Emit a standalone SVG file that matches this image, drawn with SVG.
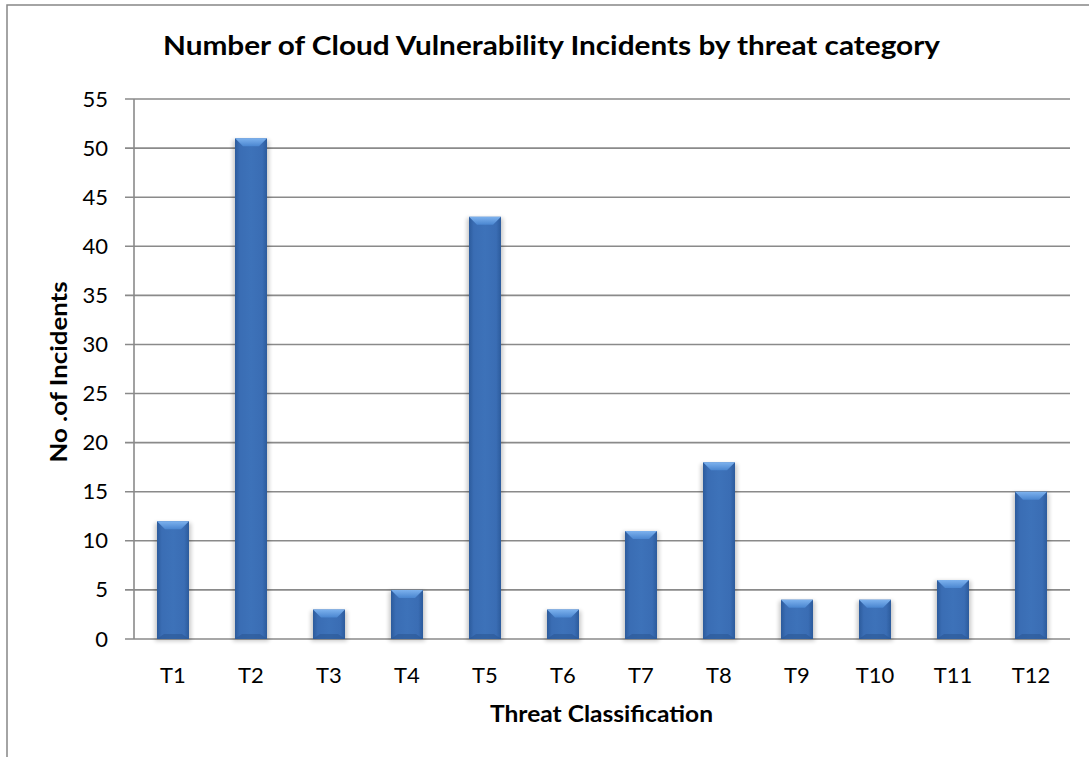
<svg xmlns="http://www.w3.org/2000/svg" width="1089" height="757" viewBox="0 0 1089 757">
<style>
.frame{fill:#fff;stroke:#878787;stroke-width:1.5}
.grid{stroke:#8a8a8a;stroke-width:1.6;fill:none}
.tick{font-family:Lato,"Liberation Sans",sans-serif;font-size:22px;fill:#000}
.ylab{text-anchor:end}
.xlab{text-anchor:middle}
.title{font-family:Lato,"Liberation Sans",sans-serif;font-weight:bold;fill:#000;text-anchor:middle}
.body{fill:url(#gBody)}
.top{fill:url(#gTop)}
.bot{fill:#2a5591;opacity:.55}
.shadow{fill:#000;opacity:.22;filter:url(#blur)}
</style>
<defs>
<linearGradient id="gBody" x1="0" y1="0" x2="1" y2="0">
<stop offset="0" stop-color="#2c5b9c"/>
<stop offset="0.15" stop-color="#3a6db4"/>
<stop offset="0.5" stop-color="#3d72b9"/>
<stop offset="0.85" stop-color="#3a6db4"/>
<stop offset="1" stop-color="#2c5b9c"/>
</linearGradient>
<linearGradient id="gTop" x1="0" y1="0" x2="0" y2="1">
<stop offset="0" stop-color="#7db2ee"/>
<stop offset="1" stop-color="#4a86d0"/>
</linearGradient>
<filter id="blur" x="-30%" y="-30%" width="160%" height="160%"><feGaussianBlur stdDeviation="2"/></filter>
</defs>
<rect class="frame" x="7" y="5" width="1110" height="800"/>
<g id="title"><text class="title" x="551.5" y="55" font-size="26" textLength="777" lengthAdjust="spacingAndGlyphs">Number of Cloud Vulnerability Incidents by threat category</text></g>
<g id="axes">
<g class="grid">
<line x1="125" y1="99" x2="1070" y2="99"/>
<line x1="125" y1="148.1" x2="1070" y2="148.1"/>
<line x1="125" y1="197.2" x2="1070" y2="197.2"/>
<line x1="125" y1="246.3" x2="1070" y2="246.3"/>
<line x1="125" y1="295.4" x2="1070" y2="295.4"/>
<line x1="125" y1="344.5" x2="1070" y2="344.5"/>
<line x1="125" y1="393.5" x2="1070" y2="393.5"/>
<line x1="125" y1="442.6" x2="1070" y2="442.6"/>
<line x1="125" y1="491.7" x2="1070" y2="491.7"/>
<line x1="125" y1="540.8" x2="1070" y2="540.8"/>
<line x1="125" y1="589.9" x2="1070" y2="589.9"/>
<line x1="125" y1="639" x2="1070" y2="639"/>
<line x1="134" y1="99" x2="134" y2="639"/>
</g>
<g class="tick ylab">
<text x="108" y="107">55</text>
<text x="108" y="156">50</text>
<text x="108" y="205">45</text>
<text x="108" y="254">40</text>
<text x="108" y="303">35</text>
<text x="108" y="352">30</text>
<text x="108" y="401">25</text>
<text x="108" y="450">20</text>
<text x="108" y="499">15</text>
<text x="108" y="548">10</text>
<text x="108" y="597">5</text>
<text x="108" y="647">0</text>
</g>
<g class="tick xlab">
<text x="173" y="683">T1</text>
<text x="251" y="683">T2</text>
<text x="329" y="683">T3</text>
<text x="407" y="683">T4</text>
<text x="485" y="683">T5</text>
<text x="563" y="683">T6</text>
<text x="641" y="683">T7</text>
<text x="719" y="683">T8</text>
<text x="797" y="683">T9</text>
<text x="875" y="683">T10</text>
<text x="953" y="683">T11</text>
<text x="1031" y="683">T12</text>
</g>
<text class="title" transform="translate(67,372) rotate(-90)" font-size="22" textLength="181" lengthAdjust="spacingAndGlyphs">No .of Incidents</text>
<text class="title" x="601.5" y="722" font-size="22" textLength="223" lengthAdjust="spacingAndGlyphs">Threat Classification</text>
</g>
<g id="bars">
<g id="bar-T1"><rect class="shadow" x="155" y="523" width="36" height="118"/><rect class="body" x="157" y="521.2" width="32" height="117.8"/><polygon class="top" points="157,521.2 189,521.2 181,529.2 165,529.2"/><polygon class="bot" points="157,639 189,639 182,634 164,634"/></g>
<g id="bar-T2"><rect class="shadow" x="233" y="140" width="36" height="501"/><rect class="body" x="235" y="138.3" width="32" height="500.7"/><polygon class="top" points="235,138.3 267,138.3 259,146.3 243,146.3"/><polygon class="bot" points="235,639 267,639 260,634 242,634"/></g>
<g id="bar-T3"><rect class="shadow" x="311" y="611" width="36" height="30"/><rect class="body" x="313" y="609.5" width="32" height="29.5"/><polygon class="top" points="313,609.5 345,609.5 337,617.5 321,617.5"/><polygon class="bot" points="313,639 345,639 338,634 320,634"/></g>
<g id="bar-T4"><rect class="shadow" x="389" y="591" width="36" height="50"/><rect class="body" x="391" y="589.9" width="32" height="49.1"/><polygon class="top" points="391,589.9 423,589.9 415,597.9 399,597.9"/><polygon class="bot" points="391,639 423,639 416,634 398,634"/></g>
<g id="bar-T5"><rect class="shadow" x="467" y="218" width="36" height="423"/><rect class="body" x="469" y="216.8" width="32" height="422.2"/><polygon class="top" points="469,216.8 501,216.8 493,224.8 477,224.8"/><polygon class="bot" points="469,639 501,639 494,634 476,634"/></g>
<g id="bar-T6"><rect class="shadow" x="545" y="611" width="36" height="30"/><rect class="body" x="547" y="609.5" width="32" height="29.5"/><polygon class="top" points="547,609.5 579,609.5 571,617.5 555,617.5"/><polygon class="bot" points="547,639 579,639 572,634 554,634"/></g>
<g id="bar-T7"><rect class="shadow" x="623" y="532" width="36" height="109"/><rect class="body" x="625" y="531" width="32" height="108"/><polygon class="top" points="625,531 657,531 649,539 633,539"/><polygon class="bot" points="625,639 657,639 650,634 632,634"/></g>
<g id="bar-T8"><rect class="shadow" x="701" y="464" width="36" height="177"/><rect class="body" x="703" y="462.3" width="32" height="176.7"/><polygon class="top" points="703,462.3 735,462.3 727,470.3 711,470.3"/><polygon class="bot" points="703,639 735,639 728,634 710,634"/></g>
<g id="bar-T9"><rect class="shadow" x="779" y="601" width="36" height="40"/><rect class="body" x="781" y="599.7" width="32" height="39.3"/><polygon class="top" points="781,599.7 813,599.7 805,607.7 789,607.7"/><polygon class="bot" points="781,639 813,639 806,634 788,634"/></g>
<g id="bar-T10"><rect class="shadow" x="857" y="601" width="36" height="40"/><rect class="body" x="859" y="599.7" width="32" height="39.3"/><polygon class="top" points="859,599.7 891,599.7 883,607.7 867,607.7"/><polygon class="bot" points="859,639 891,639 884,634 866,634"/></g>
<g id="bar-T11"><rect class="shadow" x="935" y="581" width="36" height="60"/><rect class="body" x="937" y="580.1" width="32" height="58.9"/><polygon class="top" points="937,580.1 969,580.1 961,588.1 945,588.1"/><polygon class="bot" points="937,639 969,639 962,634 944,634"/></g>
<g id="bar-T12"><rect class="shadow" x="1013" y="493" width="36" height="148"/><rect class="body" x="1015" y="491.7" width="32" height="147.3"/><polygon class="top" points="1015,491.7 1047,491.7 1039,499.7 1023,499.7"/><polygon class="bot" points="1015,639 1047,639 1040,634 1022,634"/></g>
</g>
</svg>
